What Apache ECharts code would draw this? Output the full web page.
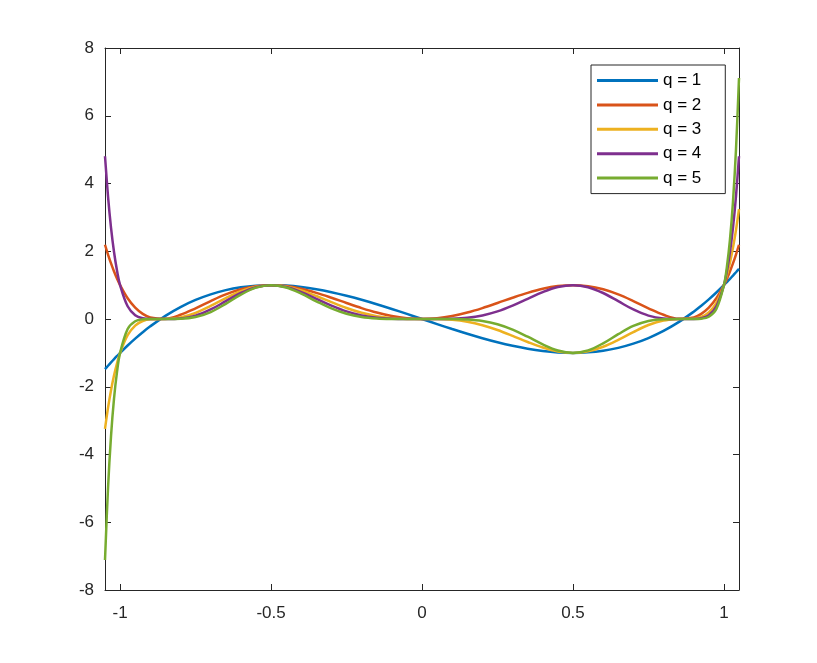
<!DOCTYPE html>
<html><head><meta charset="utf-8">
<script src="https://cdn.jsdelivr.net/npm/echarts@6/dist/echarts.min.js"></script>
<style>html,body{margin:0;padding:0;background:#fff}#c{width:817px;height:663px}</style>
</head><body><div id="c"></div>
<script>
const xValues = [-1.05,-1.04,-1.03,-1.02,-1.01,-1,-0.975,-0.95,-0.925,-0.9,-0.85,-0.8,-0.75,-0.7,-0.65,-0.6,-0.55,-0.5,-0.45,-0.4,-0.35,-0.3,-0.25,-0.2,-0.15,-0.1,-0.05,0,0.05,0.1,0.15,0.2,0.25,0.3,0.35,0.4,0.45,0.5,0.55,0.6,0.65,0.7,0.75,0.8,0.85,0.9,0.925,0.95,0.975,1,1.01,1.02,1.03,1.04,1.05];
const q1 = [-1.4805,-1.3795,-1.2809,-1.1848,-1.0912,-1,-0.7824,-0.5795,-0.3908,-0.216,0.0935,0.352,0.5625,0.728,0.8515,0.936,0.9845,1,0.9855,0.944,0.8785,0.792,0.6875,0.568,0.4365,0.296,0.1495,0,-0.1495,-0.296,-0.4365,-0.568,-0.6875,-0.792,-0.8785,-0.944,-0.9855,-1,-0.9845,-0.936,-0.8515,-0.728,-0.5625,-0.352,-0.0935,0.216,0.3908,0.5795,0.7824,1,1.0912,1.1848,1.2809,1.3795,1.4805];
const q2 = [2.1919,1.903,1.6407,1.4038,1.1907,1,0.6122,0.3358,0.1527,0.0467,0.0087,0.1239,0.3164,0.53,0.7251,0.8761,0.9692,1,0.9712,0.8911,0.7718,0.6273,0.4727,0.3226,0.1905,0.0876,0.0224,0,0.0224,0.0876,0.1905,0.3226,0.4727,0.6273,0.7718,0.8911,0.9712,1,0.9692,0.8761,0.7251,0.53,0.3164,0.1239,0.0087,0.0467,0.1527,0.3358,0.6122,1,1.1907,1.4038,1.6407,1.903,2.1919];
const q3 = [-3.2451,-2.6252,-2.1016,-1.6633,-1.2993,-1,-0.479,-0.1946,-0.0597,-0.0101,0.0008,0.0436,0.178,0.3858,0.6174,0.82,0.9542,1,0.9571,0.8412,0.678,0.4968,0.325,0.1833,0.0832,0.0259,0.0033,0,-0.0033,-0.0259,-0.0832,-0.1833,-0.325,-0.4968,-0.678,-0.8412,-0.9571,-1,-0.9542,-0.82,-0.6174,-0.3858,-0.178,-0.0436,-0.0008,0.0101,0.0597,0.1946,0.479,1,1.2993,1.6633,2.1016,2.6252,3.2451];
const q4 = [4.8044,3.6215,2.692,1.9707,1.4178,1,0.3748,0.1128,0.0233,0.0022,0.0001,0.0154,0.1001,0.2809,0.5257,0.7675,0.9394,1,0.9433,0.7941,0.5956,0.3935,0.2234,0.1041,0.0363,0.0077,0.0005,0,0.0005,0.0077,0.0363,0.1041,0.2234,0.3935,0.5956,0.7941,0.9433,1,0.9394,0.7675,0.5257,0.2809,0.1001,0.0154,0.0001,0.0022,0.0233,0.1128,0.3748,1,1.4178,1.9707,2.692,3.6215,4.8044];
const q5 = [-7.1128,-4.9958,-3.4482,-2.3349,-1.5471,-1,-0.2932,-0.0654,-0.0091,-0.0005,0,0.0054,0.0563,0.2045,0.4476,0.7184,0.9249,1,0.9296,0.7497,0.5233,0.3116,0.1536,0.0591,0.0159,0.0023,0.0001,0,-0.0001,-0.0023,-0.0159,-0.0591,-0.1536,-0.3116,-0.5233,-0.7497,-0.9296,-1,-0.9249,-0.7184,-0.4476,-0.2045,-0.0563,-0.0054,0,0.0005,0.0091,0.0654,0.2932,1,1.5471,2.3349,3.4482,4.9958,7.1128];
const seriesNames = ['q = 1','q = 2','q = 3','q = 4','q = 5'];
const seriesValues = [q1,q2,q3,q4,q5];
const xTicks = [-1,-0.5,0,0.5,1];
const colors = ['#0072BD','#D95319','#EDB120','#7E2F8E','#77AC30'];

const axisColor = '#262626';
const font = 'Liberation Sans, Arial, Helvetica, sans-serif';
const chart = echarts.init(document.getElementById('c'), null, {renderer:'canvas'});
const mkX = (pos, show) => ({
  type:'value', position:pos, min:-1.05, max:1.05,
  axisLine:{show:true, onZero:false, lineStyle:{color:axisColor,width:1}},
  axisTick:{show:true, inside:true, length:6, customValues:xTicks, lineStyle:{color:axisColor}},
  axisLabel:{show:show, customValues:xTicks, margin:15, color:axisColor, fontSize:17, fontFamily:font,
    formatter:v=>String(v)},
  splitLine:{show:false}
});
const mkY = (pos, show) => ({
  type:'value', position:pos, min:-8, max:8, interval:2,
  axisLine:{show:true, onZero:false, lineStyle:{color:axisColor,width:1}},
  axisTick:{show:true, inside:true, length:6, lineStyle:{color:axisColor}},
  axisLabel:{show:show, margin:11, color:axisColor, fontSize:17, fontFamily:font},
  splitLine:{show:false}
});
chart.setOption({
  animation:false,
  backgroundColor:'#fff',
  color:colors,
  grid:{left:105, right:78, top:48, bottom:73, containLabel:false},
  xAxis:[mkX('bottom',true), mkX('top',false)],
  yAxis:[mkY('left',true), mkY('right',false)],
  legend:{
    orient:'vertical', left:591, top:65,
    data:seriesNames,
    icon:'rect', itemWidth:61, itemHeight:3, itemGap:7.4,
    padding:[7,24,7,6],
    borderColor:'#262626', borderWidth:1, backgroundColor:'#fff',
    textStyle:{fontSize:17, fontFamily:font, color:'#000', lineHeight:17}
  },
  series: seriesNames.map((n,i)=>({
    name:n, type:'line', xAxisIndex:0, yAxisIndex:0,
    data: xValues.map((x,j)=>[x, seriesValues[i][j]]),
    showSymbol:false, symbol:'none', smooth:0.35,
    lineStyle:{width:2.5, color:colors[i]}, itemStyle:{color:colors[i]},
    z:2+i
  }))
});
</script></body></html>
